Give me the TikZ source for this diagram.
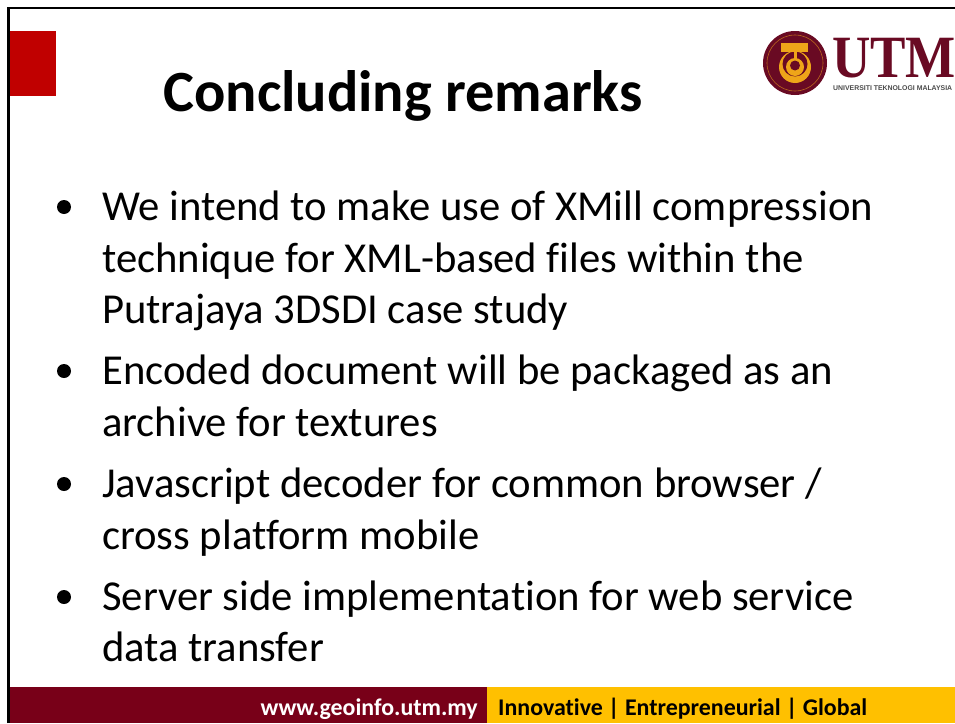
\documentclass[tikz,border=0pt]{standalone}
\usepackage{fontspec}
\setmainfont[RawFeature={-liga}]{Carlito}
\definecolor{utmred}{RGB}{192,0,0}
\definecolor{maroon}{RGB}{120,0,24}
\definecolor{gold}{RGB}{255,192,0}
\definecolor{logobrown}{RGB}{105,10,35}
\definecolor{logogold}{RGB}{238,165,25}
\begin{document}
\begin{tikzpicture}[x=1pt,y=-1pt,
  body/.style={anchor=base west,inner sep=0pt,font=\fontsize{42.65}{42.65}\selectfont},
  foot/.style={inner sep=0pt,font=\fontsize{23.9}{23.9}\bfseries\selectfont}]
\useasboundingbox (0,0) rectangle (955,723);
\fill[white] (0,0) rectangle (955,723);
\draw[black,line width=2.4pt] (8.5,723) -- (8.5,8) -- (955,8);
\fill[utmred] (10,31) rectangle (56,96);
\fill[maroon] (10,687) rectangle (487,723);
\fill[gold] (487,687) rectangle (955,723);
\node[anchor=base,inner sep=0pt,font=\fontsize{58.4}{58.4}\bfseries\selectfont] (title) at (403,111) {Concluding remarks};
\node[body] (a1) at (102,220) {We intend to make use of XMill compression};
\node[body] (a2) at (102,272) {technique for XML-based files within the};
\node[body] (a3) at (102,323) {Putrajaya 3DSDI case study};
\node[body] (b1) at (102,384) {Encoded document will be packaged as an};
\node[body] (b2) at (102,436) {archive for textures};
\node[body] (c1) at (102,497) {Javascript decoder for common browser /};
\node[body] (c2) at (102,549) {cross platform mobile};
\node[body] (d1) at (102,610) {Server side implementation for web service};
\node[body] (d2) at (102,661) {data transfer};
\foreach \yy in {207,371,484,597} \fill (64,\yy) circle (7);
\node[foot,anchor=base east,text=white] (url) at (478,715) {www.geoinfo.utm.my};
\node[foot,anchor=base west,text=black] (tag) at (498,715) {Innovative | Entrepreneurial | Global};
% logo
\fill[logobrown] (795,63) circle (32);
\draw[logogold!60!logobrown,line width=0.6pt] (795,63) circle (28);
\fill[logogold] (795,67) circle (16);
\fill[logobrown] (795,64) circle (12.5);
\fill[logogold] (795,67) circle (9);
\fill[logobrown] (795,65.5) circle (5);
\fill[logogold] (781,43) rectangle (808,52);
\fill[logogold] (793.5,52) rectangle (796.5,60);
\node[anchor=base west,inner sep=0pt,text=logobrown,font=\fontspec{Liberation Serif}\fontsize{60}{60}\bfseries\selectfont,xscale=0.885] (utm) at (832,77) {UTM};
\node[anchor=base west,inner sep=0pt,text=black!70,font=\fontspec{Liberation Sans}\fontsize{6.9}{6.9}\bfseries\selectfont] (uni) at (833,90) {UNIVERSITI TEKNOLOGI MALAYSIA};
\end{tikzpicture}
\end{document}
